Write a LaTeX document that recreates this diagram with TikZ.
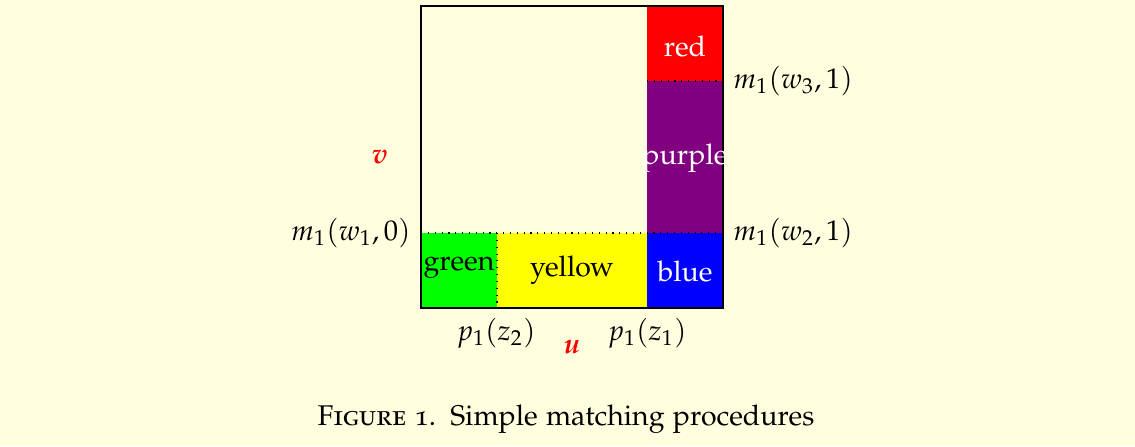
\documentclass[tikz,border=0pt]{standalone}
\usepackage[T1]{fontenc}
\usepackage[osf]{mathpazo}
\definecolor{bgyellow}{RGB}{255,255,224}
\definecolor{cred}{RGB}{255,0,0}
\definecolor{cgreen}{RGB}{0,255,0}
\definecolor{cyellow}{RGB}{255,255,0}
\definecolor{cblue}{RGB}{0,0,255}
\definecolor{cpurple}{RGB}{128,0,128}
\tikzset{
  border/.style={draw=black, dotted, line width=0.4pt},
  lbl/.style={inner sep=0pt, anchor=center},
  axislbl/.style={inner sep=0pt, anchor=center, text=cred, font=\bfseries\itshape},
}
\begin{document}
\begin{tikzpicture}[x=0.351pt,y=-0.351pt]
\fill[bgyellow] (0,0) rectangle (1135,446);
\useasboundingbox (0,0) rectangle (1135,446);
% regions
\fill[cgreen] (421,233) rectangle (497,308);
\fill[cyellow] (497,233) rectangle (647,308);
\fill[cblue] (647,233) rectangle (723,308);
\fill[cpurple] (647,81) rectangle (723,233);
\fill[cred] (647,6) rectangle (723,81);
% dotted boundaries
\coordinate (b1) at (647,81);
\coordinate (b2) at (723,81);
\coordinate (b3) at (421,233);
\coordinate (b4) at (723,233);
\coordinate (b5) at (497,233);
\coordinate (b6) at (497,308);
\draw[border] (b1) -- (b2);
\draw[border] (b3) -- (b4);
\draw[border] (b5) -- (b6);
\draw[line width=0.4pt] (421,6) rectangle (723,308);
% region labels
\node[lbl, text=white] (tred) at (685,46) {red};
\node[lbl, text=white] (tpurple) at (685,158) {purple};
\node[lbl, text=white] (tblue) at (685,271) {blue};
\node[lbl] (tgreen) at (459,268) {green};
\node[lbl] (tyellow) at (572,270) {yellow};
% axis labels
\node[inner sep=0pt, anchor=west] (mw3) at (733,81) {$m_1(w_3,1)$};
\node[inner sep=0pt, anchor=west] (mw2) at (733,233) {$m_1(w_2,1)$};
\node[inner sep=0pt, anchor=east] (mw1) at (411,233) {$m_1(w_1,0)$};
\node[axislbl] (v) at (380,157) {v};
\node[inner sep=0pt] (pz2) at (496,333) {$p_1(z_2)$};
\node[inner sep=0pt] (pz1) at (647,333) {$p_1(z_1)$};
\node[axislbl] (u) at (572,347) {u};
% caption
\node[inner sep=0pt] (cap) at (566,419) {\textsc{Figure 1.}\enspace Simple matching procedures};
\end{tikzpicture}
\end{document}
